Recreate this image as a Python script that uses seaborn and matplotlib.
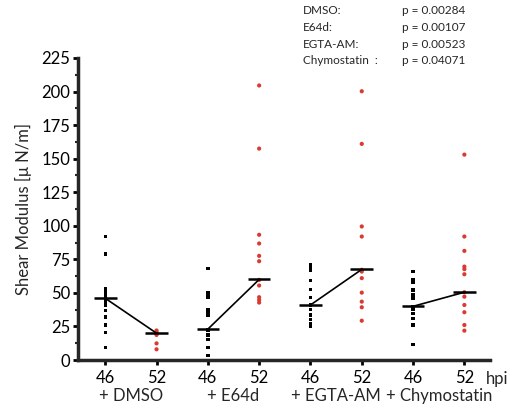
import pandas as pd
import matplotlib
matplotlib.use("Agg")
import matplotlib.pyplot as plt
import matplotlib.transforms as mtransforms
from matplotlib.ticker import MultipleLocator
import seaborn as sns

treatments = ["+ DMSO", "+ E64d", "+ EGTA-AM", "+ Chymostatin"]
times = ["46", "52"]

dmso_46 = [92, 79, 53.5, 51, 48.5, 46, 43.5, 41, 37, 32, 26, 20.6, 9.2]
dmso_52 = [22, 21, 20, 18.7, 12.4, 8]
e64d_46 = [68.4, 50.5, 49, 46.8, 37.8, 35.6, 33.6, 22.4, 21.9, 18.7, 15.4, 9.2, 3.2]
e64d_52 = [204.5, 157.5, 93.3, 86.8, 77.6, 73.6, 59.7, 55.5, 46.8, 44.8, 42.8]
egta_46 = [70.9, 68.4, 67.2, 59.2, 52.7, 46.8, 41, 37.8, 33.6, 30.3, 27.4, 24.9]
egta_52 = [200.2, 161, 99.5, 92, 67.2, 65.9, 61, 50.2, 43.5, 39.3, 29.3]
chym_46 = [65.9, 59.7, 57.7, 52.2, 48.5, 46, 39.8, 37.8, 34.8, 31.1, 26.1, 11.7]
chym_52 = [153, 92, 81.3, 69.6, 67.7, 63.9, 50.5, 47.2, 41, 35.6, 26.1, 21.9]

# horizontal bars
centre_46 = [46, 23, 41, 40]
centre_52 = [20, 60, 67.5, 50.5]

p_labels = ["DMSO:", "E64d:", "EGTA-AM:", "Chymostatin  :"]
p_values = ["p = 0.00284", "p = 0.00107", "p = 0.00523", "p = 0.04071"]

groups = [dmso_46, dmso_52, e64d_46, e64d_52, egta_46, egta_52, chym_46, chym_52]
rows = []
for i, vals in enumerate(groups):
    for v in vals:
        rows.append({"pos": i, "value": v, "time": times[i % 2]})
df = pd.DataFrame(rows)

sns.set_style("ticks")
plt.rcParams["font.family"] = ["Lato", "DejaVu Sans"]

fig = plt.figure(figsize=(5.15, 4.11), dpi=100)
ax = fig.add_axes([0.1515, 0.124, 0.80, 0.735])

sns.scatterplot(data=df, x="pos", y="value", hue="time", style="time",
                size="time", sizes={"46": 6, "52": 9},
                palette={"46": "black", "52": "#d93a32"},
                markers={"46": "s", "52": "o"}, linewidth=0,
                legend=False, ax=ax)

for k in range(4):
    x0, x1 = 2 * k, 2 * k + 1
    ax.hlines(centre_46[k], x0 - 0.22, x0 + 0.22, color="black", lw=1.8)
    ax.hlines(centre_52[k], x1 - 0.22, x1 + 0.22, color="black", lw=1.8)
    ax.plot([x0, x1], [centre_46[k], centre_52[k]], color="black", lw=1.2)

ax.set_xlim(-0.53, 7.5)
ax.set_ylim(0, 225)
ax.yaxis.set_major_locator(MultipleLocator(25))
ax.yaxis.set_minor_locator(MultipleLocator(12.5))
ax.set_xticks(range(8))
ax.set_xticklabels(times * 4)
ax.tick_params(axis="both", which="major", length=3.5, width=2, labelsize=12,
               colors="black", pad=2)
ax.tick_params(axis="x", pad=4)
ax.tick_params(axis="y", which="minor", length=2, width=1.5)
ax.set_xlabel(None)
ax.set_ylabel("Shear Modulus [\u03bc N/m]", fontsize=12, labelpad=7)

for side in ["top", "right"]:
    ax.spines[side].set_visible(False)
for side in ["left", "bottom"]:
    ax.spines[side].set_linewidth(2.5)

trans = mtransforms.blended_transform_factory(ax.transData, ax.transAxes)
for k, name in enumerate(treatments):
    ax.text(2 * k + 0.5, -0.118, name, transform=trans, ha="center",
            va="center", fontsize=12)
ax.text(7.42, -0.062, "hpi", transform=trans, ha="left", va="center",
        fontsize=12)

for j in range(4):
    yy = 1 - (11 + 16.5 * j) / 411
    fig.text(303 / 515, yy, p_labels[j], ha="left", va="center", fontsize=8.5)
    fig.text(402 / 515, yy, p_values[j], ha="left", va="center", fontsize=8.5)

fig.savefig("out.png", dpi=100)
